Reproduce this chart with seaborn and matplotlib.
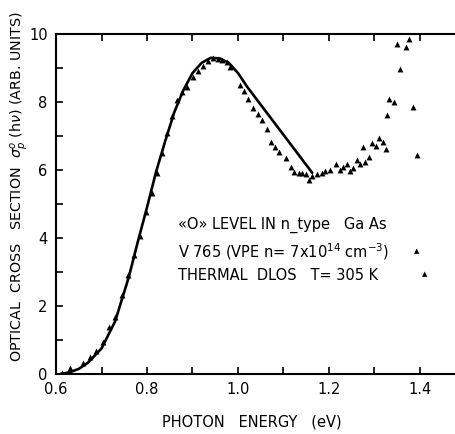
import numpy as np
import pandas as pd
import matplotlib
matplotlib.use("Agg")
import matplotlib.pyplot as plt
import seaborn as sns

# Theoretical curve (solid line)
curve_x = [0.61, 0.63, 0.65, 0.67, 0.70, 0.73, 0.76, 0.78, 0.80, 0.82, 0.84,
           0.86, 0.88, 0.90, 0.92, 0.94, 0.96, 0.98, 1.00, 1.02, 1.163]
curve_y = [0.0, 0.05, 0.15, 0.33, 0.75, 1.55, 2.85, 3.9, 4.9, 5.95, 6.85,
           7.7, 8.35, 8.85, 9.15, 9.3, 9.28, 9.15, 8.85, 8.45, 5.92]

# Measured points (triangles)
pts_x = [0.613, 0.631, 0.660, 0.675, 0.689, 0.703, 0.717, 0.730, 0.744, 0.759,
         0.771, 0.785, 0.798, 0.810, 0.821, 0.832, 0.843, 0.855, 0.865, 0.876,
         0.887, 0.900, 0.911, 0.922, 0.934, 0.945, 0.955, 0.964, 0.976, 0.982,
         1.004, 1.014, 1.023, 1.034, 1.045, 1.053, 1.063, 1.072, 1.081, 1.091,
         1.105, 1.116, 1.123, 1.133, 1.141, 1.149, 1.155, 1.162, 1.173, 1.184,
         1.191, 1.202, 1.215, 1.224, 1.231, 1.239, 1.246, 1.253, 1.261, 1.268,
         1.274, 1.280, 1.289, 1.294, 1.303, 1.309, 1.318, 1.325, 1.328, 1.332,
         1.343, 1.349, 1.356, 1.369, 1.376, 1.385, 1.394]
pts_y = [0.03, 0.17, 0.31, 0.50, 0.68, 0.95, 1.38, 1.69, 2.32, 2.91,
         3.50, 4.06, 4.77, 5.32, 5.90, 6.50, 7.08, 7.60, 8.06, 8.30,
         8.45, 8.75, 8.91, 9.06, 9.22, 9.29, 9.27, 9.24, 9.17, 9.04,
         8.50, 8.33, 8.08, 7.81, 7.64, 7.47, 7.20, 6.83, 6.69, 6.54,
         6.36, 6.10, 5.95, 5.92, 5.92, 5.88, 5.70, 5.82, 5.88, 5.90,
         5.98, 6.00, 6.17, 6.00, 6.10, 6.17, 5.98, 6.05, 6.29, 6.17,
         6.69, 6.25, 6.39, 6.80, 6.70, 6.93, 6.81, 6.61, 7.62, 8.10,
         7.99, 9.72, 8.96, 9.63, 9.85, 7.86, 6.44]

x_ticks = [0.6, 0.8, 1.0, 1.2, 1.4]
x_ticklabels = ["0.6", "0.8", "1.0", "1.2", "1.4"]
y_ticks = [0, 2, 4, 6, 8, 10]
y_ticklabels = ["0", "2", "4", "6", "8", "10"]

annotation_lines = ["«O» LEVEL IN n_type   Ga As",
                    r"V 765 (VPE n= 7x10$^{14}$ cm$^{-3}$)",
                    "THERMAL  DLOS   T= 305 K"]

sns.set_style("ticks")
plt.rcParams['font.family'] = ['DejaVu Sans']
plt.rcParams['text.color'] = 'black'
plt.rcParams['axes.labelcolor'] = 'black'

fig = plt.figure(figsize=(4.56, 4.34), dpi=100)
ax = fig.add_axes([56/456, 1 - 374/434, 1 - 56/456, (374 - 34)/434])

curve_df = pd.DataFrame({"E": curve_x, "s": curve_y})
pts_df = pd.DataFrame({"E": pts_x, "s": pts_y})

sns.lineplot(data=curve_df, x="E", y="s", sort=False, color="black",
             linewidth=1.9, ax=ax, zorder=2)
sns.scatterplot(data=pts_df, x="E", y="s", marker="^", color="black",
                s=18, linewidth=0, ax=ax, zorder=3)

ax.set_xlim(0.6, 0.6 + 400/455)
ax.set_ylim(0, 10)

ax.set_xticks(x_ticks)
ax.set_xticklabels(x_ticklabels)
ax.set_xticks(np.arange(0.7, 1.5, 0.2), minor=True)
ax.set_yticks(y_ticks)
ax.set_yticklabels(y_ticklabels)
ax.set_yticks([1, 3, 5, 7, 9], minor=True)

ax.tick_params(which="both", direction="in", top=True, right=False,
               width=1.2, labelsize=10.5, colors="black")
ax.tick_params(which="major", length=5, pad=6)
ax.tick_params(which="minor", length=5)

for side in ["left", "bottom", "top"]:
    ax.spines[side].set_linewidth(1.5)
    ax.spines[side].set_color("black")
ax.spines["right"].set_visible(False)

ax.set_xlabel("PHOTON   ENERGY   (eV)", fontsize=10.5, color="black")
ax.xaxis.set_label_coords(0.49, -0.12)
ax.set_ylabel(r"OPTICAL  CROSS   SECTION  $\sigma_p^o$ (h$\nu$) (ARB. UNITS)",
              fontsize=10.3, color="black")
ax.yaxis.set_label_coords(-0.066, 0.55)

ax.text(0.868, 4.38, annotation_lines[0], fontsize=10.5, va="center", ha="left", color="black")
ax.text(0.868, 3.59, annotation_lines[1], fontsize=10.5, va="center", ha="left", color="black")
ax.text(0.868, 2.91, annotation_lines[2], fontsize=10.5, va="center", ha="left", color="black")
ax.text(1.393, 3.62, "▲", fontsize=5, va="center", ha="center", color="black")
ax.text(1.411, 2.94, "▲", fontsize=5, va="center", ha="center", color="black")

fig.savefig("out.png", dpi=100)
